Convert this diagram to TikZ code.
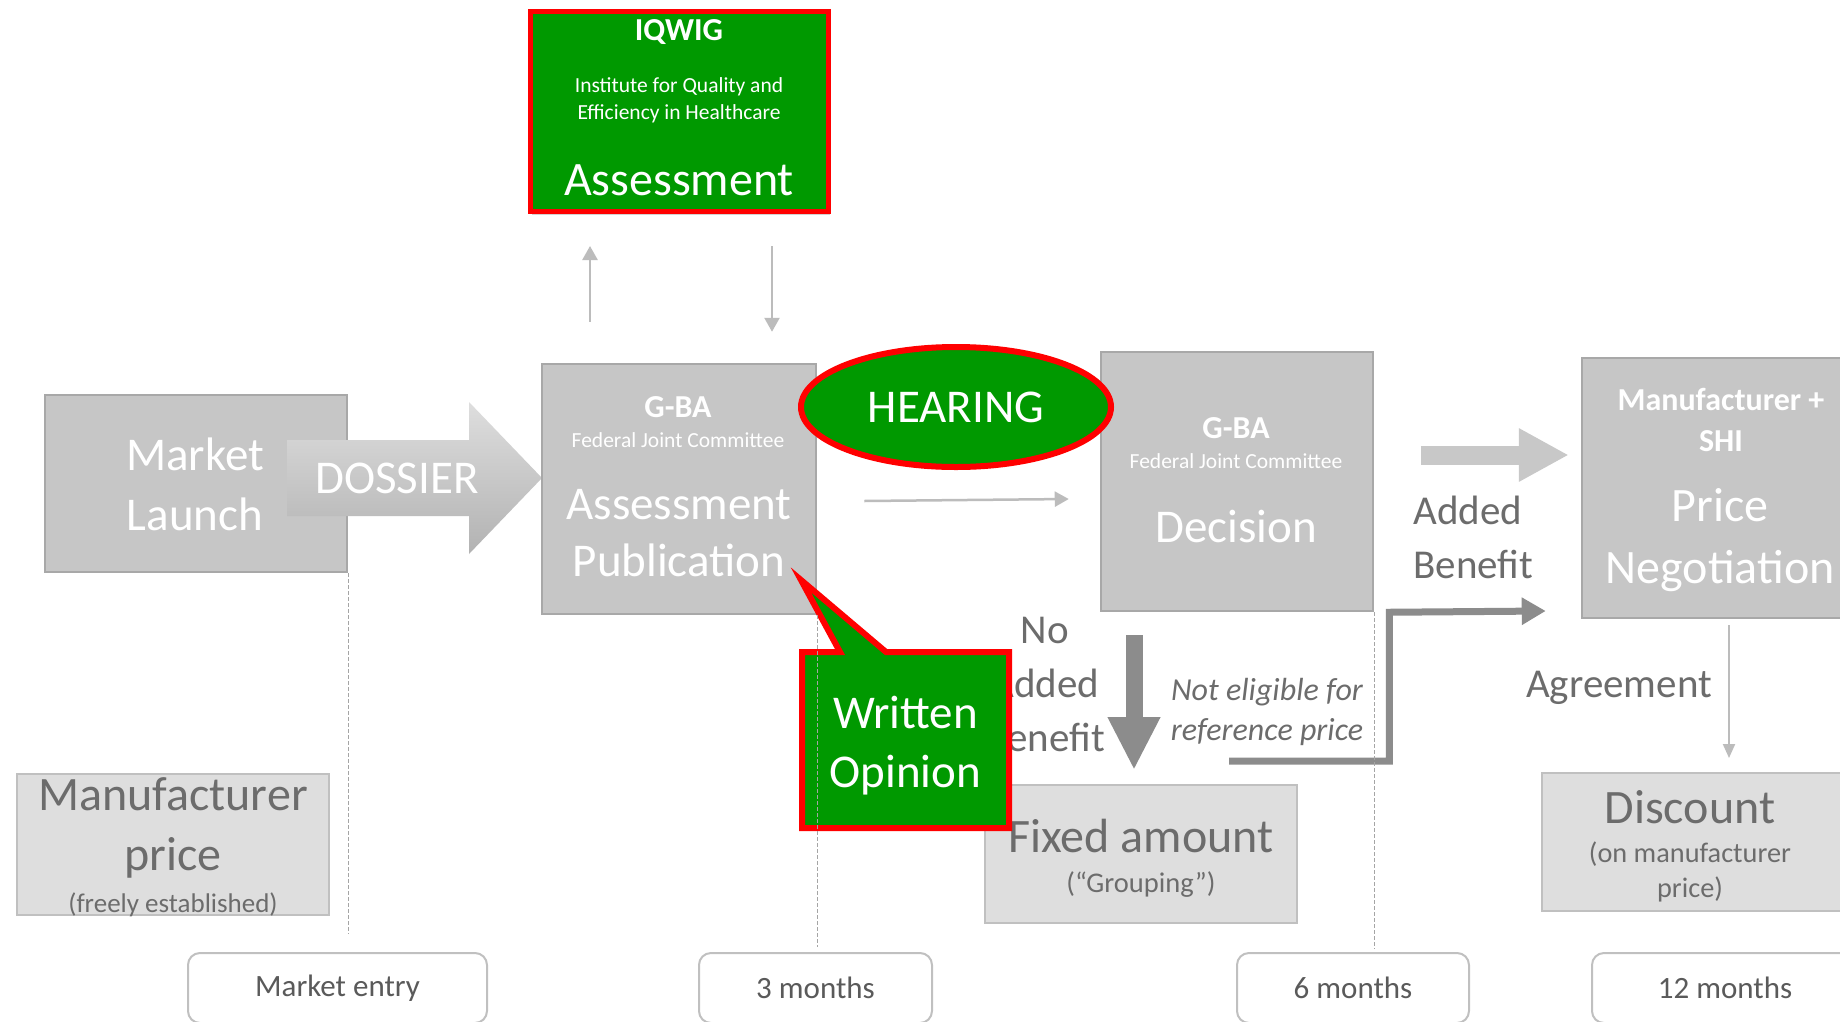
\documentclass[tikz,border=0pt]{standalone}
\usepackage{fontspec}
\setmainfont{Carlito}
\usepackage{tikz}
\usetikzlibrary{arrows.meta,positioning,calc,shapes.geometric,shadows}
\definecolor{boxgray}{RGB}{198,198,198}
\definecolor{boxedge}{RGB}{168,168,168}
\definecolor{palefill}{RGB}{222,222,222}
\definecolor{paleedge}{RGB}{192,192,192}
\definecolor{iqgreen}{RGB}{0,153,0}
\definecolor{iqred}{RGB}{255,0,0}
\definecolor{labelgray}{RGB}{108,108,108}
\definecolor{timegray}{RGB}{90,90,90}
\definecolor{darkarrow}{RGB}{140,140,140}
\definecolor{lightarrow}{RGB}{200,200,200}
\definecolor{hairgray}{RGB}{188,188,188}
\definecolor{linegray}{RGB}{165,165,165}
\definecolor{dossiertop}{RGB}{222,222,222}
\definecolor{dossierbot}{RGB}{178,178,178}

\begin{document}
\begin{tikzpicture}[
    x=1pt, y=-1pt,
    graybox/.style={draw=boxedge, fill=boxgray, line width=2.5pt},
    palebox/.style={draw=paleedge, fill=palefill, line width=2pt},
    greenbox/.style={draw=iqred, fill=iqgreen, line width=5pt},
    timebox/.style={draw=paleedge, fill=white, line width=2pt, rounded corners=12pt,
        text=timegray, font=\fontsize{31}{37}\selectfont},
    bigtext/.style={align=center, font=\fontsize{47}{57}\selectfont},
    headtext/.style={align=center, font=\bfseries\fontsize{32}{41}\selectfont},
    smalltext/.style={align=center, font=\fontsize{21.5}{27}\selectfont},
    notetext/.style={align=center, text=labelgray, font=\fontsize{41}{54}\selectfont},
    hairarrow/.style={draw=hairgray, line width=2.5pt, -{Triangle[length=14pt, width=15pt]}},
    gridline/.style={draw=linegray, line width=1.2pt, dash pattern=on 4pt off 2pt}
]
\path[use as bounding box, fill=white] (0,0) rectangle (1840,1021);
\clip (0,0) rectangle (1840,1021);

% IQWIG on top
\node[greenbox, minimum width=298, minimum height=200,
    drop shadow={shadow xshift=1pt, shadow yshift=-3pt, opacity=.35}] (iqwig) at (679.5,111.5) {};
\node[headtext, text=white] (iqwigname) at (679,32) {IQWIG};
\node[smalltext, text=white] (iqwigfull) at (679,100.5) {Institute for Quality and\\Efficiency in Healthcare};
\node[bigtext, text=white, font=\fontsize{48}{57}\selectfont] (iqwigtask) at (679,180) {Assessment};

% main row
\node[graybox, minimum width=302, minimum height=177] (launch) at (196,483.5) {};
\node[bigtext, text=white, font=\fontsize{47}{60}\selectfont] (launchtxt) at (195,484) {Market\\Launch};

\shade[top color=dossiertop, bottom color=dossierbot]
    (287,440) -- (469,440) -- (469,402) -- (542,478) -- (469,554) -- (469,516) -- (287,516) -- cycle;
\node[bigtext, text=white] (dossier) at (397,478) {DOSSIER};

\node[graybox, minimum width=274, minimum height=250] (pub) at (679,489) {};
\node[headtext, text=white] (pubhead) at (678,407) {G-BA};
\node[smalltext, text=white] (pubsub) at (678,440) {Federal Joint Committee};
\node[bigtext, text=white] (pubtxt) at (679,533) {Assessment\\Publication};

\node[graybox, minimum width=272, minimum height=259] (dec) at (1237,481.5) {};
\node[headtext, text=white] (dechead) at (1236,428) {G-BA};
\node[smalltext, text=white] (decsub) at (1236,461) {Federal Joint Committee};
\node[bigtext, text=white] (dectxt) at (1236,526) {Decision};

\node[graybox, minimum width=278, minimum height=260] (price) at (1721,488) {};
\node[headtext, text=white] (pricehead) at (1721,419.5) {Manufacturer +\\SHI};
\node[bigtext, text=white, font=\fontsize{48}{62}\selectfont] (pricetxt) at (1720,540) {Price\\Negotiation};

\node[ellipse, draw=iqred, fill=iqgreen, line width=6pt, minimum width=310, minimum height=120,
    text=white, font=\fontsize{47}{57}\selectfont,
    drop shadow={shadow xshift=2pt, shadow yshift=2pt, opacity=.25}] (hearing) at (956,407) {HEARING};

% IQWIG exchange and hearing
\draw[hairarrow] ($(pub.north)+(-89,-41)$) -- ($(iqwig.south)+(-89.5,32)$);
\draw[hairarrow] ($(iqwig.south)+(92.5,32)$) -- ($(pub.north)+(93,-31)$);
\draw[hairarrow] ($(pub.east)+(47,12)$) -- ($(dec.west)+(-31,17.5)$);

% outcomes
\node[palebox, minimum width=312, minimum height=141] (mprice) at (173,844.5) {};
\node[bigtext, text=labelgray, font=\fontsize{48}{60}\selectfont] (mpricetxt) at (173,828) {Manufacturer\\price};
\node[align=center, text=labelgray, font=\fontsize{27}{32}\selectfont] (mpricesub) at (173,905) {(freely established)};

\node[palebox, minimum width=312, minimum height=138] (fixed) at (1141,854) {};
\node[bigtext, text=labelgray, font=\fontsize{48}{57}\selectfont] (fixedtxt) at (1141,836) {Fixed amount};
\node[align=center, text=labelgray, font=\fontsize{28.5}{34}\selectfont] (fixedsub) at (1141,885) {(“Grouping”)};

\node[palebox, minimum width=317, minimum height=138] (discount) at (1700.5,842) {};
\node[bigtext, text=labelgray, font=\fontsize{48}{57}\selectfont] (discounttxt) at (1690,807) {Discount};
\node[align=center, text=labelgray, font=\fontsize{28.3}{35}\selectfont] (discountsub) at (1690,871.5) {(on manufacturer\\price)};

\node[notetext] (noadded) at (1045,684) {No\\Added\\Benefit};
\node[notetext, align=left, anchor=west] (added) at (1410,537) {Added\\Benefit};
\node[notetext] (agree) at (1619,688) {Agreement};
\node[align=center, text=labelgray, font=\itshape\fontsize{32}{40}\selectfont] (noref) at (1267,712)
    {Not eligible for\\reference price};

\draw[line width=19pt, lightarrow, -{Triangle[length=50pt, width=50pt]}]
    ($(price.west)+(-160,-33)$) -- ($(price.west)+(-12,-33)$);
\draw[line width=7pt, darkarrow, -{Triangle[length=24pt, width=26pt]}]
    ($(fixed.north east)+(-69,-23)$) -| ($(dec.south east)+(15,0)$) -- ($(price.west)+(-35,123)$);
\draw[line width=17pt, darkarrow, -{Triangle[length=53pt, width=49pt]}]
    ($(dec.south)+(-103,23)$) -- ($(fixed.north)+(-7,-14)$);
\draw[draw=hairgray, line width=2pt, -{Triangle[length=14pt, width=12pt]}]
    ($(price.south)+(8,6)$) -- ($(discount.north)+(28.5,-14)$);

% written opinion callout
\filldraw[draw=iqred, fill=iqgreen, line width=6pt, line join=miter]
    (802,652) -- (840,652) -- (801,580) -- (886,652) -- (1009,652) -- (1009,828) -- (802,828) -- cycle;
\node[align=center, text=white, font=\fontsize{47}{59}\selectfont] (opinion) at (905.5,746) {Written\\Opinion};

% timeline
\draw[gridline] (launch.south east) -- ++(0,361);
\draw[gridline] (pub.south east) -- ++(0,332);
\draw[gridline] (dec.south east) -- ++(0,337);
\node[timebox, minimum width=299, minimum height=70] (t0) at (337.5,988) {Market entry};
\node[timebox, minimum width=233, minimum height=70] (t3) at (815.5,988) {3 months};
\node[timebox, minimum width=232, minimum height=70] (t6) at (1353,988) {6 months};
\node[timebox, minimum width=266, minimum height=70] (t12) at (1725,988) {12 months};
\end{tikzpicture}
\end{document}
